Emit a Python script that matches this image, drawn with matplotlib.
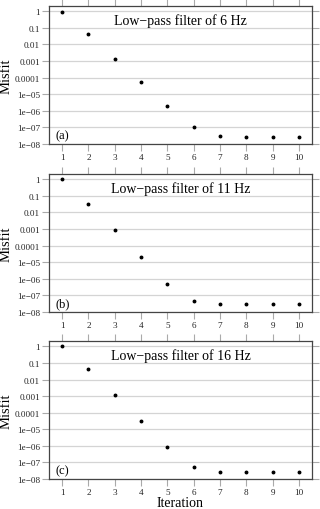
import matplotlib
matplotlib.use('Agg')
import matplotlib.pyplot as plt
import numpy as np

plt.rcParams['font.family'] = ['Liberation Serif', 'DejaVu Serif']
plt.rcParams['axes.unicode_minus'] = True

# data
iterations = np.arange(1, 11)
misfit_6hz = [0.91, 0.044, 0.0014, 5.5e-5, 2.0e-6, 1.05e-7, 3.2e-8, 2.75e-8, 2.75e-8, 2.75e-8]
misfit_11hz = [1.0, 0.033, 8.3e-4, 2.0e-5, 5.0e-7, 4.4e-8, 3.2e-8, 3.2e-8, 3.2e-8, 3.2e-8]
misfit_16hz = [1.0, 0.044, 1.1e-3, 3.2e-5, 9.1e-7, 5.2e-8, 2.5e-8, 2.5e-8, 2.5e-8, 2.5e-8]
series = [misfit_6hz, misfit_11hz, misfit_16hz]
titles = ['Low\u2212pass filter of 6 Hz', 'Low\u2212pass filter of 11 Hz', 'Low\u2212pass filter of 16 Hz']
panel_labels = ['(a)', '(b)', '(c)']
ytick_vals = [1e-8, 1e-7, 1e-6, 1e-5, 1e-4, 1e-3, 1e-2, 1e-1, 1]
ytick_labels = ['1e\u221208', '1e\u221207', '1e\u221206', '1e\u221205', '0.0001',
                '0.001', '0.01', '0.1', '1']

fig = plt.figure(figsize=(3.2, 5.1), dpi=100)
bottoms = [0.7157, 0.3863, 0.0588]

for i in range(3):
    ax = fig.add_axes([0.153, bottoms[i], 0.822, 0.2706])
    ax.set_yscale('log')
    ax.set_ylim(1e-8, 2.1)
    ax.set_xlim(0.5, 10.5)
    ax.plot(iterations, series[i], 'o', color='black', markersize=1.8, zorder=3)

    ax.set_yticks(ytick_vals)
    ax.set_yticklabels(ytick_labels)
    ax.yaxis.set_minor_locator(matplotlib.ticker.NullLocator())
    ax.set_xticks(iterations)
    ax.set_xticklabels([str(v) for v in iterations])

    ax.tick_params(axis='both', which='major', direction='out', length=5, width=0.8,
                   color='#aaaaaa', labelsize=6.6, labelcolor='#222222', pad=1.5,
                   top=True, right=True)
    ax.yaxis.grid(True, color='#d4d4d4', linewidth=0.9)
    for sp in ax.spines.values():
        sp.set_color('#444444')
        sp.set_linewidth(0.9)

    ax.text(0.5, 0.9, titles[i], transform=ax.transAxes, ha='center', va='center',
            fontsize=10)
    ax.text(0.023, 0.065, panel_labels[i], transform=ax.transAxes, ha='left',
            va='center', fontsize=9)
    ax.set_ylabel('Misfit', fontsize=10.5)
    ax.yaxis.set_label_coords(-0.137, 0.5)
    if i == 2:
        ax.set_xlabel('Iteration', fontsize=10, labelpad=0)

fig.savefig('out.png', dpi=100)
